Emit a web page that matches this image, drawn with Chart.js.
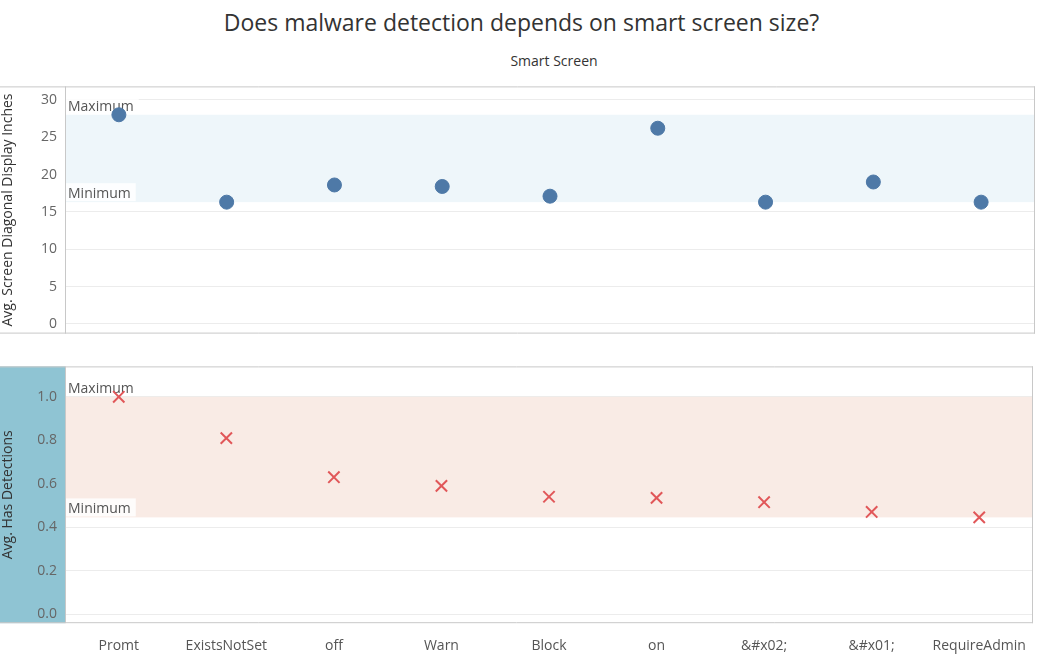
<!DOCTYPE html>
<html><head><meta charset="utf-8">
<script src="https://cdn.jsdelivr.net/npm/chart.js@4/dist/chart.umd.min.js"></script>
<style>
body{margin:0;background:#fff;font-family:"Open Sans",sans-serif;}
#title{position:absolute;left:0;top:6px;width:1043px;text-align:center;font-size:23px;color:#333;}
#hdr{position:absolute;left:65px;top:51px;width:978px;text-align:center;font-size:14px;color:#333;}
#c1{position:absolute;left:0;top:70px;}
#c2{position:absolute;left:0;top:350px;}
</style></head><body>
<div id="title">Does malware detection depends on smart screen size?</div>
<div id="hdr">Smart Screen</div>
<canvas id="c1" width="1043" height="280"></canvas>
<canvas id="c2" width="1043" height="310"></canvas>
<script>
const categories = ['Promt','ExistsNotSet','off','Warn','Block','on','&#x02;','&#x01;','RequireAdmin'];
const screenSize = [28.0,16.3,18.6,18.4,17.1,26.2,16.3,19.0,16.3];
const detections = [1.0,0.81,0.63,0.59,0.54,0.535,0.515,0.47,0.445];

const bandPlugin = {
  id:'band',
  beforeDatasetsDraw(chart, args, o){
    const {ctx, chartArea:a, scales:{y}} = chart;
    const vals = chart.data.datasets[0].data;
    const mx = Math.max(...vals), mn = Math.min(...vals);
    const y1 = y.getPixelForValue(mx), y2 = y.getPixelForValue(mn);
    ctx.save();
    ctx.fillStyle = o.color;
    ctx.fillRect(a.left, y1, a.right-a.left, y2-y1);
    ctx.font = '14px "Open Sans"';
    ctx.textBaseline='bottom';
    [['Maximum',y1],['Minimum',y2]].forEach(([t,py])=>{
      const w = ctx.measureText(t).width;
      ctx.fillStyle='rgba(255,255,255,0.85)';
      ctx.fillRect(a.left, py-19, w+8, 18);
      ctx.fillStyle='#555';
      ctx.fillText(t, a.left+3, py-1);
    });
    ctx.restore();
  },
  beforeDraw(chart, args, o){
    const {ctx, chartArea:a} = chart;
    if(o.side){ ctx.save(); ctx.fillStyle=o.side; ctx.fillRect(0,a.top,a.left,a.bottom-a.top); ctx.restore(); }
  },
  afterDraw(chart){
    const {ctx, chartArea:a} = chart;
    ctx.save(); ctx.strokeStyle='#c8c8c8'; ctx.lineWidth=1;
    ctx.beginPath();
    ctx.moveTo(0,a.top+0.5); ctx.lineTo(a.right,a.top+0.5);
    ctx.moveTo(a.left+0.5,a.top); ctx.lineTo(a.left+0.5,a.bottom);
    ctx.moveTo(a.right-0.5,a.top); ctx.lineTo(a.right-0.5,a.bottom);
    ctx.moveTo(0,a.bottom-0.5); ctx.lineTo(a.right,a.bottom-0.5);
    ctx.stroke(); ctx.restore();
  }
};

function makeChart(id, data, opts){
  return new Chart(document.getElementById(id), {
    type:'scatter',
    data:{labels:categories, datasets:[{data:data, pointStyle:opts.style, pointRadius:opts.r,
      pointBorderWidth:opts.bw, backgroundColor:opts.color, borderColor:opts.color, showLine:false}]},
    options:{
      responsive:false, animation:false,
      layout:{padding:0},
      plugins:{legend:{display:false}, tooltip:{enabled:false}, band:{color:opts.band, side:opts.side}},
      scales:{
        x:{type:'category', offset:true, display:opts.showX,
          grid:{display:false}, border:{display:false},
          ticks:{color:'#555', font:{size:14, family:'"Open Sans"'}, padding:6}},
        y:{min:opts.min, max:opts.max, afterFit(s){s.width=65;},
          afterBuildTicks(s){s.ticks=opts.ticks.map(v=>({value:v}));},
          grid:{color:'#ececec', drawTicks:false}, border:{display:false},
          ticks:{color:'#666', font:{size:14, family:'"Open Sans"'}, padding:8, callback:opts.fmt},
          title:{display:true, text:opts.title, color:'#333', font:{size:14, family:'"Open Sans"'}, padding:{top:0,bottom:2}}}
      }
    },
    plugins:[bandPlugin]
  });
}

makeChart('c1', screenSize, {style:'circle', r:7, bw:1, color:'#4e79a7', band:'#eef6fa',
  min:-1.3, max:31.8, ticks:[0,5,10,15,20,25,30], fmt:v=>v, title:'Avg. Screen Diagonal Display Inches', showX:false});
makeChart('c2', detections, {style:'crossRot', r:8, bw:2, color:'#e15759', band:'#f9ebe5', side:'#8fc4d3',
  min:-0.042, max:1.14, ticks:[0,0.2,0.4,0.6,0.8,1.0], fmt:v=>v.toFixed(1), title:'Avg. Has Detections', showX:true});
</script>
</body></html>
